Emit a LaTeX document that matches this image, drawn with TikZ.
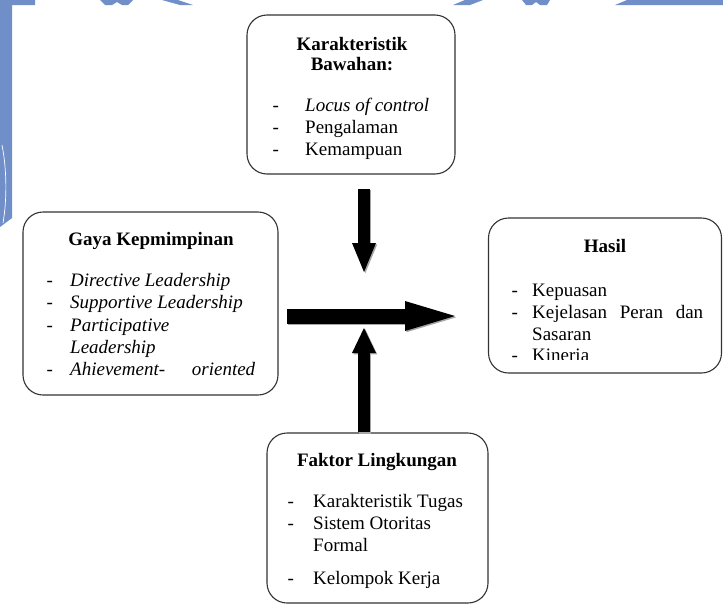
\documentclass[tikz,border=0pt]{standalone}
\usepackage{fontspec}
\setmainfont{Liberation Serif}
\usetikzlibrary{arrows.meta}
\definecolor{wm}{RGB}{112,142,200}
\tikzset{
  box/.style={draw=black!80, line width=1.1pt, rounded corners=20pt, inner sep=0pt, fill=white},
  txt/.style={anchor=base west, inner sep=0pt, font=\fontsize{19}{22}\selectfont},
  head/.style={anchor=base, inner sep=0pt, font=\fontsize{19}{22}\selectfont\bfseries},
  bigarrow/.style={line width=#1},
  arrshadow/.style={black!35, transform canvas={shift={(1.3pt,-1.3pt)}}}
}
\begin{document}
\begin{tikzpicture}[x=1pt,y=-1pt]
\useasboundingbox (0,0) rectangle (723,608);
% watermark fragments
\fill[wm] (0,0) -- (35,0) -- (35,5) -- (12,5) -- (12,218) -- (0,227) -- cycle;
\draw[white, line width=0.7pt] (2,145) .. controls (7,170) and (7,200) .. (3,223);
\fill[wm] (100,0) -- (133,0) -- (128,5) -- (122,5) -- (117,2) -- (112,5) -- (105,5) -- cycle;
\fill[wm] (162,0) -- (178,0) -- (193,5) -- (180,5) -- cycle;
\fill[wm] (465,0) -- (483,0) -- (470,5) -- (453,5) -- cycle;
\fill[wm] (522,0) -- (550,0) -- (547,5) -- (540,5) -- (536,2) -- (532,5) -- (526,5) -- cycle;
\fill[wm] (627,0) -- (723,0) -- (723,5) -- (615,5) -- cycle;

% boxes
\node[box, minimum width=208pt, minimum height=159pt] (top) at (351,94.5) {};
\node[box, minimum width=255pt, minimum height=183pt] (left) at (150.5,303.5) {};
\node[box, minimum width=233pt, minimum height=155pt] (right) at (605,295.5) {};
\node[box, minimum width=221pt, minimum height=170pt] (bot) at (377.5,518) {};

% arrows
\coordinate (dtip) at (364,272);
\coordinate (utip) at (364,328);
\coordinate (h1) at (287,316);
\coordinate (h2) at (455,316);
\coordinate (dstart) at ([xshift=13pt,yshift=-14pt]top.south);
\coordinate (ustart) at ([xshift=-13.5pt]bot.north);
\begin{scope}[arrshadow]
\draw[line width=12pt, -{Triangle[length=29pt 0 0, width=24pt 0 0, line width=0pt]}] (dstart) -- (dtip);
\draw[line width=12pt, -{Triangle[length=25pt 0 0, width=24pt 0 0, line width=0pt]}] (ustart) -- (utip);
\draw[line width=15pt, -{Triangle[length=50pt 0 0, width=30pt 0 0, line width=0pt]}] (h1) -- (h2);
\end{scope}
\draw[line width=12pt, -{Triangle[length=29pt 0 0, width=24pt 0 0, line width=0pt]}] (dstart) -- (dtip);
\draw[line width=12pt, -{Triangle[length=25pt 0 0, width=24pt 0 0, line width=0pt]}] (ustart) -- (utip);
\draw[line width=15pt, -{Triangle[length=50pt 0 0, width=30pt 0 0, line width=0pt]}] (h1) -- (h2);

% top box text
\node[head] (t0) at (352,50) {Karakteristik};
\node[head] (t1) at (352,70) {Bawahan:};
\node[txt] (t2d) at (272.5,111) {-};
\node[txt] (t2) at (305,111) {\itshape Locus of control};
\node[txt] (t3d) at (272.5,133) {-};
\node[txt] (t3) at (305,133) {Pengalaman};
\node[txt] (t4d) at (272.5,155) {-};
\node[txt] (t4) at (305,155) {Kemampuan};

% left box text
\node[head] (l0) at (151,245) {Gaya Kepmimpinan};
\node[txt] (l1d) at (46.5,286) {-};
\node[txt] (l1) at (70,286) {\itshape Directive Leadership};
\node[txt] (l2d) at (46.5,308) {-};
\node[txt] (l2) at (70,308) {\itshape Supportive Leadership};
\node[txt] (l3d) at (46.5,331) {-};
\node[txt] (l3) at (70,331) {\itshape Participative};
\node[txt] (l4) at (70,353) {\itshape Leadership};
\node[txt] (l5d) at (46.5,375) {-};
\node[txt] (l5) at (70,375) {\makebox[185pt][s]{\itshape Ahievement-\hfill oriented}};

% right box text
\node[head] (r0) at (605,252) {Hasil};
\node[txt] (r1d) at (511.5,296) {-};
\node[txt] (r1) at (532,296) {Kepuasan};
\node[txt] (r2d) at (511.5,318) {-};
\node[txt] (r2) at (532,318) {\makebox[171pt][s]{Kejelasan\hfill Peran\hfill dan}};
\node[txt] (r3) at (532,340) {Sasaran};
\begin{scope}
\clip (480,340) rectangle (723,359.5);
\node[txt] (r4d) at (511.5,361) {-};
\node[txt] (r4) at (532,361) {Kineria};
\end{scope}

% bottom box text
\node[head] (b0) at (377,466) {Faktor Lingkungan};
\node[txt] (b1d) at (287.5,507) {-};
\node[txt] (b1) at (313,507) {Karakteristik Tugas};
\node[txt] (b2d) at (287.5,529) {-};
\node[txt] (b2) at (313,529) {Sistem Otoritas};
\node[txt] (b3) at (313,551) {Formal};
\node[txt] (b4d) at (287.5,584) {-};
\node[txt] (b4) at (313,584) {Kelompok Kerja};
\end{tikzpicture}
\end{document}
